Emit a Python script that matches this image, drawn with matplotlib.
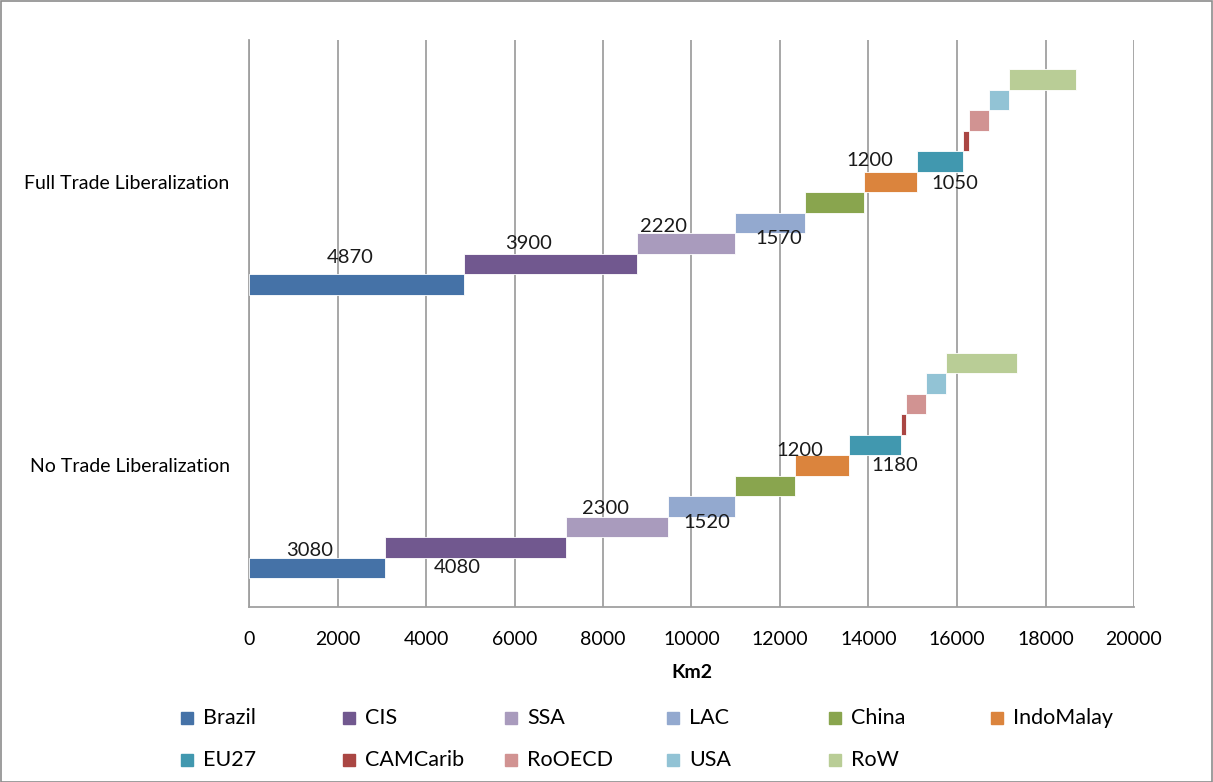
import numpy as np
import matplotlib.pyplot as plt
from matplotlib.patches import Rectangle

plt.rcParams['font.family'] = ['Lato', 'DejaVu Sans']

scenarios = ['No Trade Liberalization', 'Full Trade Liberalization']
regions = ['Brazil', 'CIS', 'SSA', 'LAC', 'China', 'IndoMalay',
           'EU27', 'CAMCarib', 'RoOECD', 'USA', 'RoW']
no_trade = [3080, 4080, 2300, 1520, 1370, 1200, 1180, 120, 460, 450, 1600]
full_trade = [4870, 3900, 2220, 1570, 1330, 1200, 1050, 130, 460, 440, 1530]
x_ticks = [0, 2000, 4000, 6000, 8000, 10000, 12000, 14000, 16000, 18000, 20000]

colors = ['#4572A7', '#71588F', '#A99BBD', '#93A9CF', '#89A54E', '#DB843D',
          '#4198AF', '#AA4643', '#D19392', '#92C3D5', '#B9CD96']

# which segments carry a value label, and where (pixel shift from bar centre)
labelled = [0, 1, 2, 3, 5, 6]
shift_no = [(-8, 17), (-18, -20), (-11, 18), (6, -16), (-22, 15), (20, -21)]
shift_full = [(-7, 27), (-22, 20), (-23, 17), (9, -16), (-20, 21), (15, -22)]

W, H = 1213, 782
fig = plt.figure(figsize=(W / 100, H / 100), dpi=100)
ax = fig.add_axes([249 / W, 1 - 607 / H, 885 / W, 567 / H])

slot = 20.5 / 283.5
for g, (vals, shifts) in enumerate([(no_trade, shift_no), (full_trade, shift_full)]):
    vals = np.array(vals)
    left = np.concatenate([[0], np.cumsum(vals)[:-1]])
    ys = g + (np.arange(len(regions)) - 5) * slot
    for i in range(len(regions)):
        ax.barh(ys[i], vals[i], left=left[i], height=slot, color=colors[i],
                edgecolor='white', linewidth=0.6, zorder=3)
    for k, i in enumerate(labelled):
        ax.annotate(str(vals[i]), (left[i] + vals[i] / 2, ys[i]),
                    xytext=shifts[k], textcoords='offset pixels',
                    ha='center', va='center', fontsize=14.5, color='#1a1a1a')

ax.set_xlim(0, 20000)
ax.set_ylim(-0.5, 1.5)
ax.set_xticks(x_ticks)
ax.set_xticklabels([str(t) for t in x_ticks], fontsize=14)
ax.set_yticks([0, 1])
ax.set_yticklabels(scenarios, fontsize=14)
ax.tick_params(axis='x', length=0, pad=17)
ax.tick_params(axis='y', length=0, pad=14)
ax.set_xlabel('Km2', fontsize=14, fontweight='bold', labelpad=12)

ax.xaxis.grid(True, color='#a0a0a0', linewidth=1.3)
ax.set_axisbelow(True)
for s in ['top', 'right']:
    ax.spines[s].set_visible(False)
for s in ['left', 'bottom']:
    ax.spines[s].set_color('#a0a0a0')
    ax.spines[s].set_linewidth(1.3)

# legend, 6 columns on two rows
for i, r in enumerate(regions):
    row, col = divmod(i, 6)
    x0 = (181 + col * 162) / W
    y0 = 1 - (718 + row * 42) / H
    fig.add_artist(Rectangle((x0, y0 - 6 / H), 12 / W, 12 / H,
                             transform=fig.transFigure, color=colors[i]))
    fig.text(x0 + 22 / W, y0, r, fontsize=15.5, va='center', ha='left')

fig.add_artist(Rectangle((0.5 / W, 0.5 / H), 1 - 1.5 / W, 1 - 1.5 / H,
                         transform=fig.transFigure, fill=False,
                         edgecolor='#8c8c8c', linewidth=1.2))

fig.savefig('out.png', dpi=100)
